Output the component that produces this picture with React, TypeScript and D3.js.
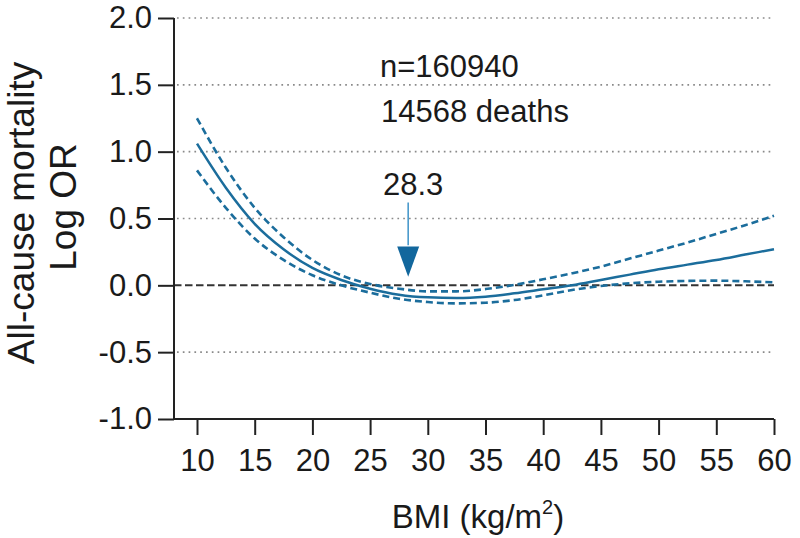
import { useEffect, useRef } from 'react'
import * as d3 from 'd3'

const WIDTH = 800
const HEIGHT = 538

// BMI grid the curves were read at
const BMI = [10, 12.5, 15, 17.5, 20, 22.5, 25, 27.5, 30, 32.5, 35, 37.5, 40, 42.5, 45, 47.5, 50, 52.5, 55, 57.5, 60]
// Log OR estimate and 95% CI bounds
const ESTIMATE = [1.06, 0.73, 0.46, 0.27, 0.13, 0.04, -0.025, -0.07, -0.09, -0.095, -0.085, -0.06, -0.03, 0.0, 0.04, 0.08, 0.12, 0.155, 0.19, 0.23, 0.27]
const UPPER = [1.25, 0.88, 0.58, 0.36, 0.19, 0.075, 0.01, -0.025, -0.045, -0.045, -0.028, 0.003, 0.045, 0.09, 0.14, 0.2, 0.26, 0.32, 0.385, 0.45, 0.52]
const LOWER = [0.86, 0.58, 0.35, 0.19, 0.075, 0.0, -0.055, -0.1, -0.125, -0.135, -0.13, -0.11, -0.075, -0.035, -0.005, 0.015, 0.027, 0.033, 0.035, 0.03, 0.022]

const X_TICKS = [10, 15, 20, 25, 30, 35, 40, 45, 50, 55, 60]
const Y_TICKS = [-1.0, -0.5, 0.0, 0.5, 1.0, 1.5, 2.0]

const NADIR = 28.3
const N_LABEL = 'n=160940'
const DEATHS_LABEL = '14568 deaths'

const FONT = 'Liberation Sans, Arial, Helvetica, sans-serif'
const CURVE_COLOR = '#1b6d9c'

export default function App() {
  const svgRef = useRef<SVGSVGElement>(null)

  useEffect(() => {
    if (!svgRef.current) return
    const svg = d3.select(svgRef.current)
    svg.selectAll('*').remove()

    const axisX = 174
    const axisY = 419

    const x = d3.scaleLinear().domain([10, 60]).range([197, 774])
    const y = d3.scaleLinear().domain([-1, 2]).range([419, 18])

    // dotted grid lines (zero gets its own dashed line)
    svg.append('g')
      .selectAll('line')
      .data(Y_TICKS.filter(t => t !== 0 && t !== -1))
      .enter()
      .append('line')
      .attr('x1', axisX + 3)
      .attr('x2', 774)
      .attr('y1', d => y(d))
      .attr('y2', d => y(d))
      .attr('stroke', '#8a8a8a')
      .attr('stroke-width', 1.7)
      .attr('stroke-dasharray', '1.7,4.1')

    svg.append('line')
      .attr('x1', axisX)
      .attr('x2', 774)
      .attr('y1', y(0))
      .attr('y2', y(0))
      .attr('stroke', '#333')
      .attr('stroke-width', 2)
      .attr('stroke-dasharray', '7.5,3.5')

    // y axis
    const yAxis = d3.axisLeft(y)
      .tickValues(Y_TICKS)
      .tickSize(16)
      .tickPadding(6)
      .tickFormat(d => (d as number).toFixed(1))

    svg.append('g')
      .attr('transform', `translate(${axisX},0)`)
      .call(yAxis)
      .call(g => g.select('.domain').attr('d', `M0,${y(2)}V${axisY}`).attr('stroke', '#222').attr('stroke-width', 2))
      .call(g => g.selectAll('.tick line').attr('stroke', '#222').attr('stroke-width', 2))
      .selectAll('text')
      .attr('fill', '#1a1a1a')
      .attr('font-family', FONT)
      .attr('font-size', '31px')

    // x axis
    const xAxis = d3.axisBottom(x)
      .tickValues(X_TICKS)
      .tickSize(16)
      .tickPadding(14)
      .tickFormat(d => String(d))

    svg.append('g')
      .attr('transform', `translate(0,${axisY})`)
      .call(xAxis)
      .call(g => g.select('.domain').attr('d', `M${axisX},0H${x(60)}`).attr('stroke', '#222').attr('stroke-width', 2))
      .call(g => g.selectAll('.tick line').attr('stroke', '#222').attr('stroke-width', 2))
      .selectAll('text')
      .attr('fill', '#1a1a1a')
      .attr('font-family', FONT)
      .attr('font-size', '31px')

    // curves
    const line = d3.line<number>()
      .x((_, i) => x(BMI[i]))
      .y(d => y(d))
      .curve(d3.curveMonotoneX)

    ;[UPPER, LOWER].forEach(series => {
      svg.append('path')
        .datum(series)
        .attr('d', line)
        .attr('fill', 'none')
        .attr('stroke', CURVE_COLOR)
        .attr('stroke-width', 2.6)
        .attr('stroke-dasharray', '7,4')
    })

    svg.append('path')
      .datum(ESTIMATE)
      .attr('d', line)
      .attr('fill', 'none')
      .attr('stroke', CURVE_COLOR)
      .attr('stroke-width', 2.5)

    // nadir arrow
    const ax = x(NADIR)
    svg.append('line')
      .attr('x1', ax)
      .attr('x2', ax)
      .attr('y1', y(0.62))
      .attr('y2', y(0.3))
      .attr('stroke', '#4a9acb')
      .attr('stroke-width', 1.6)
    svg.append('path')
      .attr('d', `M${ax - 11},${y(0.29)}L${ax + 11},${y(0.29)}L${ax},${y(0.065)}Z`)
      .attr('fill', '#12679d')

    const annot = svg.append('g')
      .attr('font-family', FONT)
      .attr('font-size', '31px')
      .attr('fill', '#1a1a1a')
    annot.append('text').attr('x', 383).attr('y', 195).text(String(NADIR))
    annot.append('text').attr('x', 380).attr('y', 77).text(N_LABEL)
    annot.append('text').attr('x', 381).attr('y', 122).text(DEATHS_LABEL)

    // axis titles
    const title = svg.append('g')
      .attr('font-family', FONT)
      .attr('font-size', '37px')
      .attr('fill', '#1a1a1a')
      .attr('text-anchor', 'middle')
    title.append('text')
      .attr('transform', 'translate(34,213) rotate(-90)')
      .text('All-cause mortality')
    title.append('text')
      .attr('transform', 'translate(76,207) rotate(-90)')
      .text('Log OR')

    const xt = title.append('text')
      .attr('x', 478)
      .attr('y', 528)
      .attr('font-size', '33px')
    xt.append('tspan').text('BMI (kg/m')
    xt.append('tspan').attr('font-size', '20px').attr('dy', -14).text('2')
    xt.append('tspan').attr('dy', 14).text(')')
  }, [])

  return (
    <div style={{ position: 'absolute', left: 0, top: 0, background: '#fff' }}>
      <svg ref={svgRef} width={WIDTH} height={HEIGHT} style={{ display: 'block' }} />
    </div>
  )
}
